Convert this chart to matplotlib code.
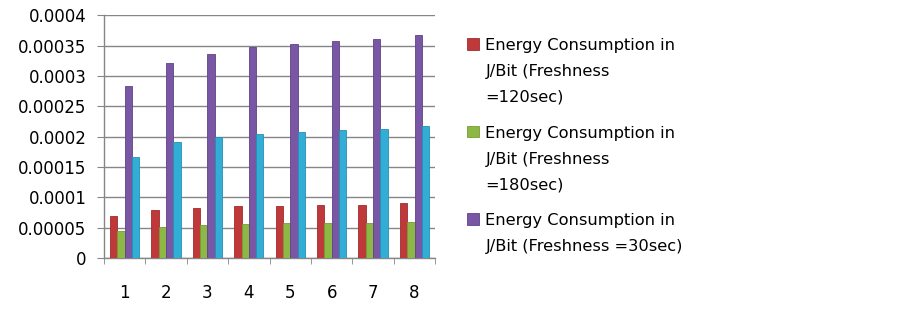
import matplotlib.pyplot as plt
import numpy as np

plt.rcParams['font.family'] = ['DejaVu Sans']

categories = [1, 2, 3, 4, 5, 6, 7, 8]
fresh_120 = [0.0000686, 0.0000785, 0.0000823, 0.000085, 0.000086, 0.0000867, 0.0000877, 0.00009]
fresh_180 = [0.0000444, 0.000051, 0.0000538, 0.000056, 0.000057, 0.000057, 0.0000576, 0.0000593]
fresh_30 = [0.000283, 0.000321, 0.000336, 0.000348, 0.000352, 0.000357, 0.00036, 0.000368]
fresh_other = [0.000166, 0.000191, 0.0002, 0.000205, 0.000207, 0.000211, 0.000212, 0.000217]
yticks = [0, 0.00005, 0.0001, 0.00015, 0.0002, 0.00025, 0.0003, 0.00035, 0.0004]
ytick_labels = ['0', '0.00005', '0.0001', '0.00015', '0.0002', '0.00025', '0.0003', '0.00035', '0.0004']

labels = ['Energy Consumption in\nJ/Bit (Freshness\n=120sec)',
          'Energy Consumption in\nJ/Bit (Freshness\n=180sec)',
          'Energy Consumption in\nJ/Bit (Freshness =30sec)']

fig = plt.figure(figsize=(9.03, 3.09), dpi=100)
ax = fig.add_axes([0.115, 0.165, 0.367, 0.786])

x = np.arange(1, 9)
w = 0.177
series = [fresh_120, fresh_180, fresh_30, fresh_other]
colors = ['#C0393A', '#8DB845', '#7957A5', '#32AED6']
edges = ['#A02B2C', '#759C35', '#5F4286', '#2690B3']
handles = []
for i, (vals, c, e) in enumerate(zip(series, colors, edges)):
    b = ax.bar(x + (i - 1.5) * w, vals, w, color=c, edgecolor=e, linewidth=0.6, zorder=3)
    handles.append(b)

ax.set_xlim(0.5, 8.5)
ax.set_ylim(0, 0.0004)
ax.set_yticks(yticks)
ax.set_yticklabels(ytick_labels)
ax.set_xticks(x)
ax.set_xticklabels([str(c) for c in categories])
ax.set_xticks(np.arange(0.5, 9, 1), minor=True)
ax.tick_params(axis='x', which='major', length=0, pad=19, labelsize=12)
ax.tick_params(axis='x', which='minor', length=4, color='#868686')
ax.tick_params(axis='y', length=5, color='#868686', labelsize=12, pad=7.5)
ax.grid(axis='y', color='#868686', linewidth=1, zorder=0)
for s in ['top', 'right']:
    ax.spines[s].set_visible(False)
for s in ['left', 'bottom']:
    ax.spines[s].set_color('#868686')
    ax.spines[s].set_linewidth(1)

leg = fig.legend(handles[:3], labels, loc='upper left', bbox_to_anchor=(0.517, 0.877),
                 frameon=False, fontsize=11.7, handlelength=0.72, handleheight=0.72,
                 handletextpad=0.42, labelspacing=1.3, borderpad=0, borderaxespad=0)
for t in leg.get_texts():
    t.set_linespacing(1.9)
# put the square beside the first line of each label
for col in leg._legend_handle_box.get_children():
    for item in col.get_children():
        item.align = 'top'

plt.savefig('out.png', dpi=100)
plt.close()
